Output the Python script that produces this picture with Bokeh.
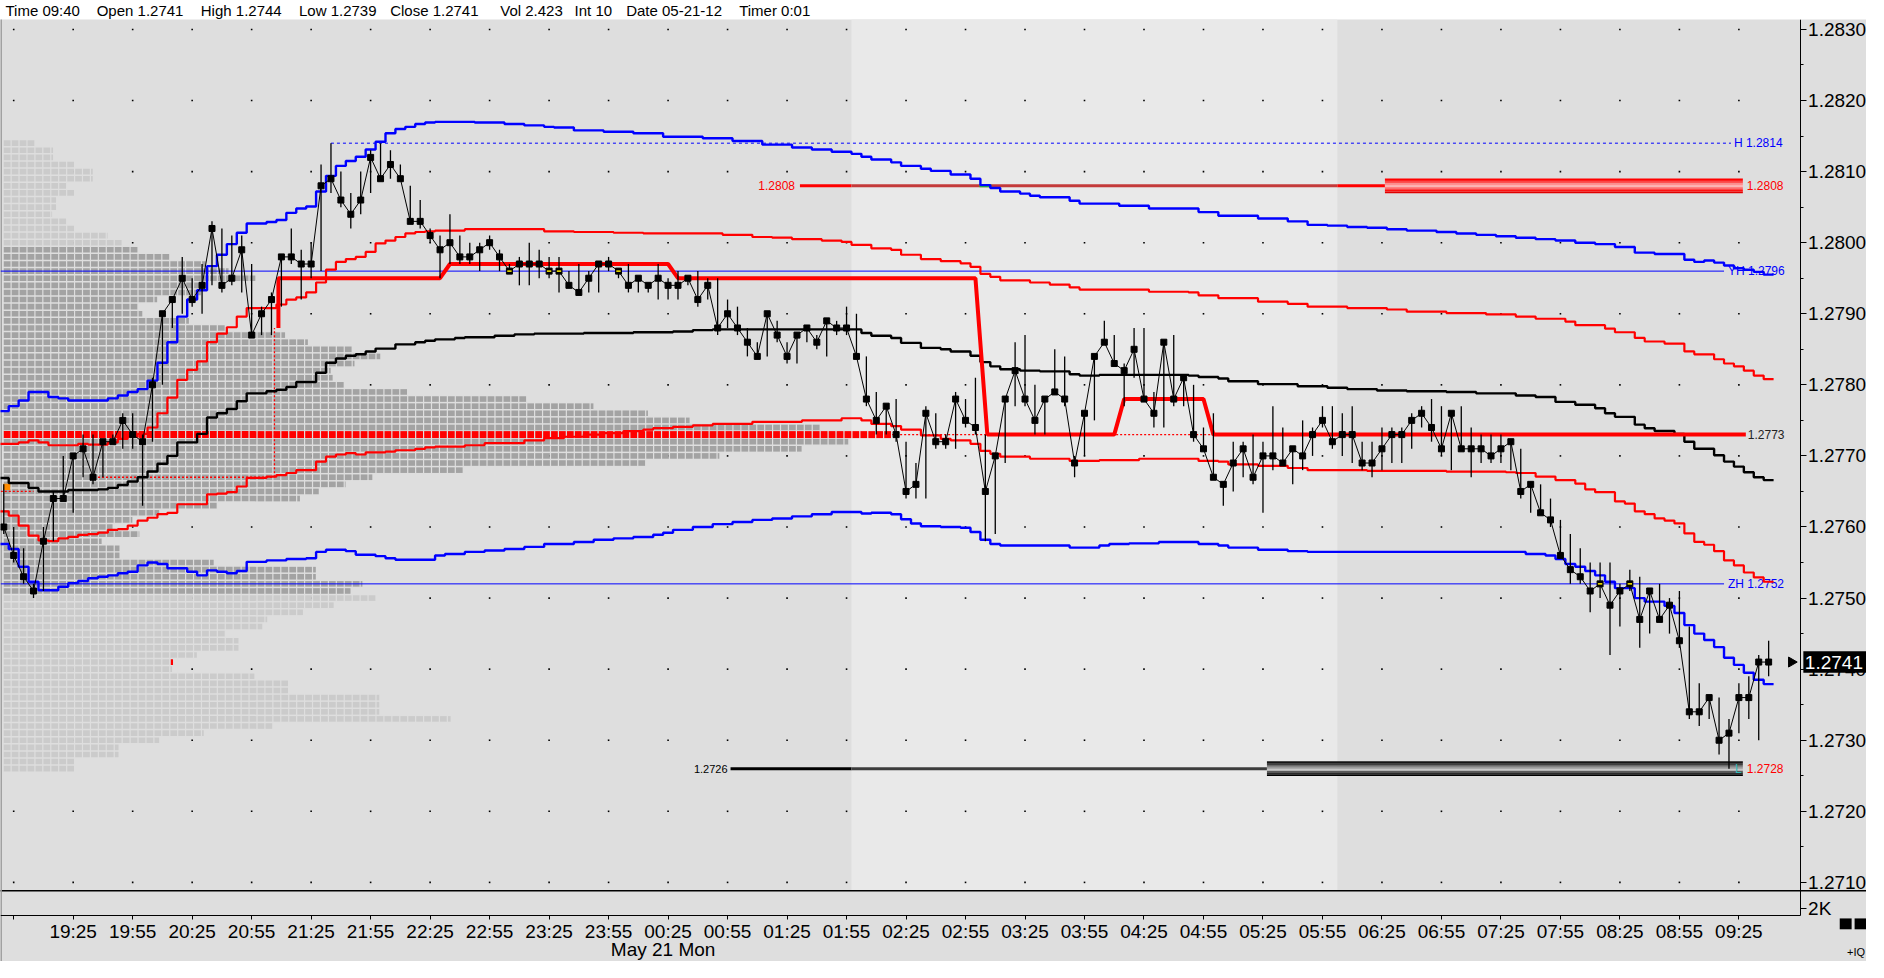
import math
from bokeh.plotting import figure
from bokeh.models import Range1d, FixedTicker
from bokeh.layouts import column
from bokeh.embed import file_html
from bokeh.resources import INLINE
from bokeh.core.properties import value

FONT = "Liberation Sans"
BG = "#dedede"
BG_MID = "#e9e9e9"

# ---------------- data ----------------
header_fields = ["Time 09:40", "Open 1.2741", "High 1.2744", "Low 1.2739", "Close 1.2741",
                 "Vol 2.423", "Int 10", "Date 05-21-12", "Timer 0:01"]

time_labels = ["19:25", "19:55", "20:25", "20:55", "21:25", "21:55", "22:25", "22:55", "23:25",
               "23:55", "00:25", "00:55", "01:25", "01:55", "02:25", "02:55", "03:25", "03:55",
               "04:25", "04:55", "05:25", "05:55", "06:25", "06:55", "07:25", "07:55", "08:25",
               "08:55", "09:25"]
date_label = "May 21 Mon"

price_ticks = [1.271, 1.272, 1.273, 1.274, 1.275, 1.276, 1.277, 1.278, 1.279, 1.280, 1.281, 1.282, 1.283]
price_minor = [1.2715, 1.2725, 1.2735, 1.2745, 1.2755, 1.2765, 1.2775, 1.2785, 1.2795, 1.2805, 1.2815, 1.2825]

# 5-minute bars, 18:50 .. 09:40
close = [
    1.2760, 1.2756, 1.2753, 1.2751, 1.2758, 1.2764, 1.2764, 1.2770, 1.2771, 1.2767,
    1.2772, 1.2772, 1.2775, 1.2773, 1.2772, 1.2780, 1.2790, 1.2792, 1.2795, 1.2792,
    1.2794, 1.2802, 1.2794, 1.2795, 1.2799, 1.2787, 1.2790, 1.2792, 1.2798, 1.2798,
    1.2797, 1.2797, 1.2808, 1.2809, 1.2806, 1.2804, 1.2806, 1.2812, 1.2809, 1.2811,
    1.2809, 1.2803, 1.2803, 1.2801, 1.2799, 1.2800, 1.2798, 1.2798, 1.2799, 1.2800,
    1.2798, 1.2796, 1.2797, 1.2797, 1.2797, 1.2796, 1.2796, 1.2794, 1.2793, 1.2795,
    1.2797, 1.2797, 1.2796, 1.2794, 1.2795, 1.2794, 1.2795, 1.2794, 1.2794, 1.2795,
    1.2792, 1.2794, 1.2788, 1.2790, 1.2788, 1.2786, 1.2784, 1.2790, 1.2787, 1.2784,
    1.2787, 1.2788, 1.2786, 1.2789, 1.2788, 1.2788, 1.2784, 1.2778, 1.2775, 1.2777,
    1.2773, 1.2765, 1.2766, 1.2776, 1.2772, 1.2772, 1.2778, 1.2775, 1.2774, 1.2765,
    1.2770, 1.2778, 1.2782, 1.2778, 1.2775, 1.2778, 1.2779, 1.2778, 1.2769, 1.2776,
    1.2784, 1.2786, 1.2783, 1.2782, 1.2785, 1.2778, 1.2776, 1.2786, 1.2778, 1.2781,
    1.2773, 1.2771, 1.2767, 1.2766, 1.2769, 1.2771, 1.2767, 1.2770, 1.2770, 1.2769,
    1.2771, 1.2770, 1.2773, 1.2775, 1.2772, 1.2773, 1.2773, 1.2769, 1.2769, 1.2771,
    1.2773, 1.2773, 1.2775, 1.2776, 1.2774, 1.2771, 1.2776, 1.2771, 1.2771, 1.2771,
    1.2770, 1.2771, 1.2772, 1.2765, 1.2766, 1.2762, 1.2761, 1.2756, 1.2754, 1.2753,
    1.2751, 1.2752, 1.2749, 1.2751, 1.2752, 1.2747, 1.2751, 1.2747, 1.2749, 1.2744,
    1.2734, 1.2734, 1.2736, 1.2730, 1.2731, 1.2736, 1.2736, 1.2741, 1.2741]
high = [
    1.2766, 1.2760, 1.2757, 1.2752, 1.2760, 1.2765, 1.2770, 1.2770, 1.2773, 1.2773,
    1.2772, 1.2773, 1.2776, 1.2776, 1.2773, 1.2781, 1.2790, 1.2792, 1.2798, 1.2795,
    1.2797, 1.2803, 1.2802, 1.2801, 1.2801, 1.2797, 1.2791, 1.2793, 1.2798, 1.2802,
    1.2799, 1.2800, 1.2811, 1.2814, 1.2810, 1.2807, 1.2810, 1.2813, 1.2814, 1.2813,
    1.2811, 1.2808, 1.2806, 1.2802, 1.2801, 1.2804, 1.2801, 1.2800, 1.2800, 1.2801,
    1.2799, 1.2797, 1.2798, 1.2800, 1.2799, 1.2798, 1.2798, 1.2796, 1.2797, 1.2796,
    1.2797, 1.2798, 1.2796, 1.2797, 1.2795, 1.2794, 1.2797, 1.2795, 1.2796, 1.2795,
    1.2796, 1.2795, 1.2795, 1.2792, 1.2791, 1.2788, 1.2786, 1.2790, 1.2789, 1.2786,
    1.2787, 1.2788, 1.2787, 1.2789, 1.2789, 1.2791, 1.2790, 1.2784, 1.2779, 1.2777,
    1.2778, 1.2772, 1.2769, 1.2777, 1.2776, 1.2773, 1.2779, 1.2778, 1.2781, 1.2773,
    1.2770, 1.2778, 1.2786, 1.2787, 1.2780, 1.2778, 1.2785, 1.2784, 1.2770, 1.2776,
    1.2784, 1.2789, 1.2787, 1.2783, 1.2788, 1.2788, 1.2779, 1.2786, 1.2787, 1.2781,
    1.2780, 1.2774, 1.2776, 1.2766, 1.2772, 1.2772, 1.2773, 1.2772, 1.2777, 1.2774,
    1.2771, 1.2775, 1.2774, 1.2777, 1.2777, 1.2776, 1.2777, 1.2772, 1.2772, 1.2774,
    1.2774, 1.2774, 1.2776, 1.2777, 1.2778, 1.2777, 1.2776, 1.2777, 1.2774, 1.2773,
    1.2773, 1.2773, 1.2772, 1.2771, 1.2766, 1.2766, 1.2764, 1.2761, 1.2759, 1.2757,
    1.2755, 1.2755, 1.2755, 1.2752, 1.2754, 1.2753, 1.2751, 1.2752, 1.2750, 1.2751,
    1.2746, 1.2738, 1.2736, 1.2736, 1.2733, 1.2738, 1.2739, 1.2742, 1.2744]
low = [
    1.2759, 1.2755, 1.2752, 1.2750, 1.2751, 1.2758, 1.2764, 1.2762, 1.2767, 1.2766,
    1.2767, 1.2772, 1.2771, 1.2771, 1.2763, 1.2772, 1.2780, 1.2788, 1.2790, 1.2791,
    1.2790, 1.2794, 1.2793, 1.2794, 1.2793, 1.2787, 1.2787, 1.2787, 1.2791, 1.2797,
    1.2792, 1.2795, 1.2796, 1.2807, 1.2805, 1.2802, 1.2804, 1.2807, 1.2809, 1.2809,
    1.2809, 1.2803, 1.2802, 1.2800, 1.2795, 1.2797, 1.2797, 1.2797, 1.2796, 1.2799,
    1.2796, 1.2796, 1.2794, 1.2794, 1.2795, 1.2795, 1.2793, 1.2794, 1.2793, 1.2793,
    1.2793, 1.2796, 1.2795, 1.2793, 1.2793, 1.2793, 1.2792, 1.2792, 1.2792, 1.2794,
    1.2791, 1.2792, 1.2787, 1.2788, 1.2787, 1.2784, 1.2784, 1.2784, 1.2786, 1.2783,
    1.2783, 1.2786, 1.2785, 1.2784, 1.2787, 1.2787, 1.2784, 1.2777, 1.2773, 1.2773,
    1.2772, 1.2764, 1.2764, 1.2764, 1.2771, 1.2771, 1.2771, 1.2774, 1.2773, 1.2758,
    1.2759, 1.2769, 1.2777, 1.2777, 1.2773, 1.2773, 1.2779, 1.2777, 1.2767, 1.2770,
    1.2775, 1.2786, 1.2783, 1.2777, 1.2781, 1.2778, 1.2774, 1.2774, 1.2777, 1.2777,
    1.2772, 1.2771, 1.2767, 1.2763, 1.2765, 1.2767, 1.2766, 1.2762, 1.2768, 1.2769,
    1.2766, 1.2768, 1.2770, 1.2774, 1.2771, 1.2770, 1.2769, 1.2768, 1.2767, 1.2768,
    1.2769, 1.2769, 1.2771, 1.2774, 1.2772, 1.2770, 1.2768, 1.2771, 1.2767, 1.2769,
    1.2769, 1.2769, 1.2768, 1.2764, 1.2762, 1.2762, 1.2760, 1.2756, 1.2752, 1.2752,
    1.2748, 1.2750, 1.2742, 1.2746, 1.2751, 1.2743, 1.2745, 1.2747, 1.2745, 1.2743,
    1.2733, 1.2732, 1.2733, 1.2728, 1.2726, 1.2731, 1.2733, 1.2730, 1.2739]

# indicator step lines: bar index where a new level starts, and the level
bu_k = [0, 1, 2, 3, 5, 6, 7, 11, 12, 13, 14, 15, 16, 17, 18, 19, 20, 21, 22, 23, 24, 25, 27, 28, 29, 30, 31,
        32, 33, 34, 35, 36, 37, 38, 39, 40, 41, 42, 43, 44, 48, 51, 53, 55, 56, 58, 61, 64, 67, 71, 74, 77,
        80, 82, 84, 86, 87, 88, 90, 91, 93, 94, 96, 98, 99, 100, 101, 103, 104, 105, 108, 109, 113, 116,
        121, 123, 127, 130, 132, 134, 136, 138, 140, 142, 145, 147, 149, 151, 153, 155, 157, 159, 161, 163,
        165, 167, 170, 171, 172, 173, 174, 175, 176, 177, 178]
bu_v = [1.27763, 1.27770, 1.27778, 1.27790, 1.27783, 1.27781, 1.27778, 1.27781, 1.27785, 1.27790, 1.27794,
        1.27806, 1.27831, 1.27860, 1.27896, 1.27920, 1.27933, 1.27967, 1.27983, 1.27998, 1.28014, 1.28027,
        1.28029, 1.28032, 1.28042, 1.28048, 1.28051, 1.28072, 1.28094, 1.28108, 1.28115, 1.28121, 1.28131,
        1.28142, 1.28154, 1.28160, 1.28163, 1.28167, 1.28169, 1.28170, 1.28169, 1.28167, 1.28165, 1.28163,
        1.28162, 1.28158, 1.28156, 1.28154, 1.28149, 1.28147, 1.28143, 1.28138, 1.28134, 1.28131, 1.28128,
        1.28125, 1.28121, 1.28117, 1.28113, 1.28108, 1.28104, 1.28101, 1.28096, 1.28090, 1.28081, 1.28077,
        1.28072, 1.28069, 1.28066, 1.28064, 1.28059, 1.28055, 1.28052, 1.28048, 1.28043, 1.28038, 1.28034,
        1.28030, 1.28025, 1.28024, 1.28022, 1.28021, 1.28019, 1.28017, 1.28015, 1.28013, 1.28011, 1.28009,
        1.28007, 1.28005, 1.28003, 1.28000, 1.27998, 1.27994, 1.27986, 1.27984, 1.27976, 1.27973, 1.27975,
        1.27972, 1.27968, 1.27964, 1.27962, 1.27959, 1.27955]

ru_k = [0, 2, 3, 4, 5, 8, 9, 11, 12, 13, 14, 15, 16, 17, 18, 19, 20, 21, 22, 23, 24, 25, 28, 29, 30, 31, 32,
        33, 34, 35, 36, 37, 38, 39, 40, 41, 42, 43, 44, 47, 55, 58, 62, 65, 73, 76, 78, 80, 83, 85, 86, 88,
        90, 91, 93, 95, 97, 98, 99, 100, 101, 104, 106, 108, 109, 116, 120, 121, 123, 127, 130, 132, 136,
        140, 142, 146, 150, 153, 155, 158, 159, 162, 163, 165, 166, 168, 170, 171, 173, 174, 175, 176, 177,
        178]
ru_v = [1.27717, 1.27719, 1.27722, 1.27719, 1.27715, 1.27717, 1.27716, 1.27719, 1.27724, 1.27727, 1.27731,
        1.27740, 1.27760, 1.27782, 1.27807, 1.27821, 1.27833, 1.27860, 1.27872, 1.27881, 1.27896, 1.27908,
        1.27913, 1.27920, 1.27923, 1.27930, 1.27944, 1.27962, 1.27973, 1.27977, 1.27980, 1.27987, 1.27999,
        1.28003, 1.28008, 1.28013, 1.28015, 1.28016, 1.28017, 1.28019, 1.28016, 1.28015, 1.28014, 1.28013,
        1.28011, 1.28008, 1.28007, 1.28005, 1.28003, 1.28001, 1.27997, 1.27992, 1.27990, 1.27983, 1.27977,
        1.27974, 1.27971, 1.27966, 1.27956, 1.27952, 1.27947, 1.27944, 1.27941, 1.27937, 1.27934, 1.27931,
        1.27930, 1.27926, 1.27922, 1.27917, 1.27914, 1.27910, 1.27908, 1.27906, 1.27903, 1.27901, 1.27899,
        1.27896, 1.27893, 1.27889, 1.27884, 1.27879, 1.27874, 1.27866, 1.27861, 1.27858, 1.27847, 1.27843,
        1.27836, 1.27830, 1.27826, 1.27820, 1.27813, 1.27808]

vw_k = [0, 1, 3, 4, 7, 10, 11, 12, 13, 14, 15, 16, 17, 18, 20, 21, 22, 23, 24, 25, 27, 28, 29, 30, 32, 33,
        34, 35, 36, 37, 38, 40, 42, 43, 44, 46, 47, 50, 52, 54, 59, 64, 68, 70, 72, 87, 88, 90, 91, 93, 95,
        96, 98, 99, 100, 101, 103, 105, 108, 109, 111, 120, 121, 123, 124, 127, 131, 134, 136, 139, 142,
        146, 149, 153, 155, 157, 159, 161, 162, 163, 165, 166, 167, 169, 170, 171, 173, 174, 175, 176, 177,
        178]
vw_v = [1.27669, 1.27662, 1.27655, 1.27650, 1.27652, 1.27653, 1.27655, 1.27659, 1.27664, 1.27670, 1.27678,
        1.27689, 1.27700, 1.27719, 1.27731, 1.27754, 1.27760, 1.27766, 1.27777, 1.27788, 1.27791, 1.27793,
        1.27797, 1.27804, 1.27817, 1.27831, 1.27837, 1.27841, 1.27843, 1.27847, 1.27851, 1.27857, 1.27860,
        1.27862, 1.27864, 1.27866, 1.27867, 1.27869, 1.27871, 1.27872, 1.27873, 1.27874, 1.27875, 1.27877,
        1.27878, 1.27873, 1.27869, 1.27866, 1.27859, 1.27852, 1.27850, 1.27847, 1.27841, 1.27832, 1.27826,
        1.27822, 1.27820, 1.27819, 1.27815, 1.27813, 1.27814, 1.27813, 1.27811, 1.27809, 1.27805, 1.27801,
        1.27798, 1.27796, 1.27794, 1.27792, 1.27791, 1.27790, 1.27788, 1.27785, 1.27783, 1.27776, 1.27772,
        1.27767, 1.27760, 1.27755, 1.27744, 1.27739, 1.27735, 1.27731, 1.27720, 1.27710, 1.27701, 1.27692,
        1.27685, 1.27677, 1.27670, 1.27666]

rl_k = [0, 1, 2, 3, 4, 5, 6, 7, 8, 9, 10, 11, 12, 13, 14, 15, 16, 17, 18, 21, 22, 23, 24, 25, 27, 28, 29,
        30, 32, 33, 34, 35, 36, 37, 39, 40, 42, 43, 44, 47, 49, 53, 55, 57, 59, 61, 63, 65, 66, 68, 70, 72,
        76, 81, 85, 87, 88, 90, 91, 93, 95, 96, 98, 99, 100, 101, 104, 108, 111, 115, 121, 123, 124, 127,
        130, 132, 138, 146, 152, 153, 155, 157, 159, 160, 161, 163, 164, 165, 166, 167, 168, 169, 170, 171,
        172, 173, 174, 175, 176, 177, 178]
rl_v = [1.27622, 1.27616, 1.27602, 1.27588, 1.27581, 1.27580, 1.27584, 1.27586, 1.27589, 1.27590, 1.27592,
        1.27596, 1.27597, 1.27602, 1.27609, 1.27613, 1.27618, 1.27620, 1.27632, 1.27646, 1.27647, 1.27649,
        1.27657, 1.27669, 1.27671, 1.27673, 1.27676, 1.27680, 1.27692, 1.27699, 1.27702, 1.27704, 1.27702,
        1.27705, 1.27706, 1.27708, 1.27710, 1.27712, 1.27713, 1.27715, 1.27718, 1.27722, 1.27725, 1.27727,
        1.27730, 1.27732, 1.27735, 1.27737, 1.27739, 1.27741, 1.27743, 1.27745, 1.27748, 1.27750, 1.27753,
        1.27750, 1.27745, 1.27742, 1.27737, 1.27729, 1.27724, 1.27722, 1.27717, 1.27707, 1.27703, 1.27699,
        1.27696, 1.27693, 1.27694, 1.27696, 1.27693, 1.27692, 1.27688, 1.27686, 1.27683, 1.27680, 1.27679,
        1.27678, 1.27677, 1.27676, 1.27671, 1.27666, 1.27661, 1.27653, 1.27649, 1.27636, 1.27633, 1.27622,
        1.27618, 1.27612, 1.27609, 1.27605, 1.27591, 1.27579, 1.27575, 1.27566, 1.27553, 1.27546, 1.27536,
        1.27529, 1.27523]

bl_k = [0, 1, 2, 3, 4, 6, 7, 8, 9, 10, 11, 12, 13, 14, 15, 16, 17, 19, 20, 21, 22, 23, 24, 25, 27, 29, 31,
        32, 33, 35, 36, 38, 39, 40, 44, 45, 47, 49, 51, 53, 55, 58, 60, 62, 64, 66, 67, 68, 70, 72, 74, 76,
        78, 80, 82, 84, 87, 88, 90, 91, 92, 93, 95, 97, 98, 99, 100, 101, 108, 111, 112, 114, 117, 121, 123,
        124, 127, 130, 132, 154, 156, 157, 158, 159, 160, 161, 162, 163, 165, 166, 168, 169, 170, 171, 172,
        173, 174, 175, 176, 177, 178]
bl_v = [1.27576, 1.27569, 1.27544, 1.27523, 1.27511, 1.27516, 1.27521, 1.27524, 1.27528, 1.27530, 1.27532,
        1.27535, 1.27537, 1.27546, 1.27550, 1.27548, 1.27542, 1.27537, 1.27532, 1.27539, 1.27537, 1.27535,
        1.27538, 1.27551, 1.27553, 1.27555, 1.27556, 1.27565, 1.27568, 1.27566, 1.27561, 1.27559, 1.27556,
        1.27554, 1.27560, 1.27562, 1.27565, 1.27567, 1.27569, 1.27572, 1.27576, 1.27579, 1.27582, 1.27584,
        1.27586, 1.27589, 1.27592, 1.27596, 1.27600, 1.27604, 1.27607, 1.27610, 1.27612, 1.27615, 1.27618,
        1.27621, 1.27619, 1.27620, 1.27618, 1.27611, 1.27605, 1.27601, 1.27600, 1.27599, 1.27593, 1.27582,
        1.27576, 1.27574, 1.27571, 1.27574, 1.27576, 1.27577, 1.27579, 1.27576, 1.27574, 1.27571, 1.27568,
        1.27566, 1.27565, 1.27562, 1.27560, 1.27555, 1.27548, 1.27544, 1.27538, 1.27532, 1.27523, 1.27514,
        1.27500, 1.27495, 1.27489, 1.27479, 1.27462, 1.27450, 1.27441, 1.27431, 1.27416, 1.27406, 1.27395,
        1.27385, 1.27379]

# developing point of control (thick red)
poc_k = [27.7, 27.7, 44.0, 45.0, 67.0, 68.0, 98.0, 99.2, 112.0, 113.0, 121.0, 122.0, 175.7]
poc_v = [1.2788, 1.2795, 1.2795, 1.2797, 1.2797, 1.2795, 1.2795, 1.2773, 1.2773, 1.2778, 1.2778, 1.2773, 1.2773]
# earlier POC levels (dotted)
old_poc_k = [[-0.3, 3.0], [8.7, 27.3], [27.3, 27.3], [89.6, 122.0]]
old_poc_v = [[1.2765, 1.2765], [1.2767, 1.2767], [1.2767, 1.2788], [1.2773, 1.2773]]

# volume profile rows 1.2814 (top) .. 1.2726 (bottom)
profile_top = 1.2814
profile_vol = [
    35, 53, 53, 75, 93, 93, 67, 75, 56, 56,
    52, 67, 75, 108, 123, 139, 171, 207, 230, 257,
    207, 203, 158, 138, 143, 190, 227, 287, 310, 355,
    383, 357, 333, 335, 347, 410, 531, 598, 653, 695,
    827, 899, 855, 808, 725, 651, 467, 375, 348, 321,
    302, 218, 160, 133, 113, 140, 102, 120, 120, 215,
    318, 318, 365, 353, 379, 336, 305, 269, 264, 227,
    240, 240, 198, 173, 173, 256, 290, 290, 382, 382,
    382, 454, 274, 205, 160, 119, 119, 75, 75]
va_high, va_low, poc_price = 1.2799, 1.2751, 1.2773

# reference levels
lvl_text = ["H 1.2814", "YH 1.2796", "ZH 1.2752"]
lvl_price = [1.2814, 1.2796, 1.2752]
lvl_from = [33.0, -0.33, -0.33]
lvl_to = [174.2, 173.5, 173.5]
lvl_dash = ["3 3", "solid", "solid"]

target_hi, target_lo, session_low = 1.2808, 1.2726, 1.2728
session_bounds = [85.5, 134.5]  # lighter session background between these bars

# ---------------- figure geometry ----------------
X0, X1 = -0.33, 187.87          # whole canvas width, in bar units
AXIS_K = 181.17                 # price axis position
Y0, Y1 = 1.269887, 1.283140     # whole canvas height, in price units
AXIS_P = 1.270534               # time axis position
SUB_LINE = 1.270881             # separator of the small volume pane
TICK = 0.0001

W_TOTAL = 1866
H_MAIN = 942
p = figure(title=None, width=W_TOTAL, height=H_MAIN, x_range=Range1d(X0, X1),
           y_range=Range1d(Y0, Y1), output_backend="svg", toolbar_location=None,
           y_axis_location="right", min_border=0, background_fill_color=BG, border_fill_color=BG,
           outline_line_color=None)
p.grid.visible = False

# price axis
yax = p.yaxis[0]
sub_tick = 1.27063
yax.ticker = FixedTicker(ticks=price_ticks + [sub_tick], minor_ticks=price_minor)
ov = {t: f"{t:.4f}" for t in price_ticks}
ov[sub_tick] = "2K"
yax.major_label_overrides = ov
yax.fixed_location = AXIS_K
yax.bounds = (AXIS_P, Y1 + 0.001)
yax.major_label_text_font = FONT
yax.major_label_text_font_size = "19px"
yax.major_label_text_color = "black"
yax.major_tick_out = 6
yax.major_tick_in = 0
yax.minor_tick_out = 3
yax.minor_tick_in = 0
yax.major_label_standoff = 2
yax.axis_line_color = "black"

# time axis
xax = p.xaxis[0]
tick_k = [1] + [7 + 6 * i for i in range(len(time_labels))]
xax.ticker = FixedTicker(ticks=tick_k, minor_ticks=[])
xov = {1: ""}
for i, lab in enumerate(time_labels):
    xov[7 + 6 * i] = lab
xax.major_label_overrides = xov
xax.fixed_location = AXIS_P
xax.bounds = (X0 - 1, AXIS_K)
xax.major_label_text_font = FONT
xax.major_label_text_font_size = "19px"
xax.major_label_text_color = "black"
xax.major_tick_out = 4
xax.major_tick_in = 0
xax.minor_tick_line_color = None
xax.major_label_standoff = 1
xax.axis_line_color = "black"

# ---------------- background ----------------
p.quad(left=[session_bounds[0]], right=[session_bounds[1]], bottom=[SUB_LINE], top=[Y1 + 0.001],
       color=BG_MID, line_color=None)
p.segment(x0=[X0 - 1], x1=[X1 + 1], y0=[SUB_LINE], y1=[SUB_LINE], line_color="black", line_width=1.5)
p.segment(x0=[-0.29], x1=[-0.29], y0=[Y0 - 0.01], y1=[Y1 + 0.01], line_color="#9a9a9a", line_width=2)

# grid dots
dot_x, dot_y = [], []
for kk in tick_k:
    for t in price_ticks:
        dot_x.append(kk)
        dot_y.append(t)
p.scatter(dot_x, dot_y, marker="square", size=1.6, color="black", line_color=None)

# ---------------- volume profile ----------------
PX_PER_VOL = 0.1   # bar units per profile unit
cl, cr, cb, ct, cc = [], [], [], [], []
row_end = {}
for i, v in enumerate(profile_vol):
    price = round(profile_top - i * TICK, 4)
    end = X0 + v * PX_PER_VOL
    row_end[price] = end
    is_poc = abs(price - poc_price) < 1e-9
    in_va = (va_low - 1e-9) <= price <= (va_high + 1e-9)
    col = "#ff0000" if is_poc else ("#a3a3a3" if in_va else "#cbcbcb")
    half = 0.000049 if is_poc else 0.0000395
    s = 0.0
    while s < end - 0.02:
        cl.append(s)
        cr.append(min(s + 0.68, end))
        cb.append(price - half)
        ct.append(price + half)
        cc.append(col)
        s += 0.8
p.quad(left=cl, right=cr, bottom=cb, top=ct, fill_color=cc, line_color=None)

# current price marker on the profile
last_px = close[-1]
if last_px in row_end:
    e = row_end[last_px]
    p.quad(left=[e - 0.12], right=[e + 0.1], bottom=[last_px - 0.00004], top=[last_px + 0.00004],
           color="#ff0000", line_color=None)
# small orange marker at session open
p.quad(left=[-0.05], right=[0.65], bottom=[1.27652], top=[1.27661], color="#ff8c00", line_color=None)

# ---------------- reference lines ----------------
for t, pr, a, b, d in zip(lvl_text, lvl_price, lvl_from, lvl_to, lvl_dash):
    p.segment(x0=[a], x1=[b], y0=[pr], y1=[pr], line_color="#0000ff", line_width=1, line_dash=d)
p.text(x=[174.5, 173.9, 173.9], y=lvl_price, text=lvl_text, text_font=value(FONT),
       text_font_size="12px", text_color="#0000ff", text_baseline="middle", text_align="left")


def grad_bar(x0, x1, center, colors, half=0.000104):
    n = len(colors)
    h = 2 * half / n
    bots = [center - half + i * h for i in range(n)]
    p.quad(left=[x0] * n, right=[x1] * n, bottom=bots, top=[b + h for b in bots],
           fill_color=colors, line_color=None)


# target high 1.2808
p.segment(x0=[80.3, 85.5, 134.5], x1=[85.5, 134.5, 139.3], y0=[target_hi] * 3, y1=[target_hi] * 3,
          line_color=["#ff0000", "#c43a3a", "#ff0000"], line_width=3)
p.segment(x0=[98.4], x1=[99.6], y0=[target_hi], y1=[target_hi], line_color="#22cc22", line_width=3)
grad_bar(139.3, 175.4, target_hi,
         ["#e00000", "#ff1010", "#ff4545", "#ff8080", "#ffb0b0", "#ff9090", "#ff5050", "#ff2020", "#ff0000"])
p.text(x=[79.8], y=[target_hi], text=[f"{target_hi:.4f}"], text_font=value(FONT), text_font_size="12px",
       text_color="#ff0000", text_baseline="middle", text_align="right")
p.text(x=[175.8], y=[target_hi], text=[f"{target_hi:.4f}"], text_font=value(FONT), text_font_size="12px",
       text_color="#ff0000", text_baseline="middle", text_align="left")

# target low 1.2726
p.segment(x0=[73.3, 85.5], x1=[85.5, 127.4], y0=[target_lo] * 2, y1=[target_lo] * 2,
          line_color=["#000000", "#3c3c3c"], line_width=3)
grad_bar(127.4, 175.4, target_lo,
         ["#000000", "#2a2a2a", "#5a5a5a", "#c8c8c8", "#9a9a9a", "#6a6a6a", "#404040", "#151515"])
p.text(x=[73.0], y=[target_lo], text=[f"{target_lo:.4f}"], text_font=value(FONT), text_font_size="11px",
       text_color="black", text_baseline="middle", text_align="right")
p.text(x=[174.6], y=[target_lo], text=["L"], text_font=value(FONT), text_font_size="12px",
       text_color="#33bbbb", text_baseline="middle", text_align="left")
p.text(x=[175.8], y=[target_lo], text=[f"{session_low:.4f}"], text_font=value(FONT), text_font_size="12px",
       text_color="#ff0000", text_baseline="middle", text_align="left")

# old POC levels (dotted)
p.multi_line(old_poc_k, old_poc_v, line_color="#ff0000", line_width=1.3, line_dash="2 2")

# ---------------- bands ----------------
n = min(len(close), len(high), len(low))
LAST_K = n - 1


def step_line(ks, vs, color, width):
    m = min(len(ks), len(vs))
    xs = [k - 0.5 for k in ks[:m]] + [LAST_K + 0.5]
    ys = list(vs[:m]) + [vs[m - 1]]
    p.step(xs, ys, mode="after", line_color=color, line_width=width)


step_line(bu_k, bu_v, "#0000ff", 2.4)
step_line(ru_k, ru_v, "#ff0000", 2.2)
step_line(vw_k, vw_v, "#000000", 2.4)
step_line(rl_k, rl_v, "#ff0000", 2.2)
step_line(bl_k, bl_v, "#0000ff", 2.4)

# developing POC
p.line(poc_k, poc_v, line_color="#ff0000", line_width=4)
p.text(x=[175.9], y=[poc_price], text=[f"{poc_price:.4f}"], text_font=value(FONT), text_font_size="12px",
       text_color="#222222", text_baseline="middle", text_align="left")

# ---------------- price bars ----------------
ks = list(range(n))
p.segment(x0=ks, x1=ks, y0=low[:n], y1=high[:n], line_color="black", line_width=1.3)
p.line(ks, close[:n], line_color="black", line_width=1)
p.scatter(ks, close[:n], marker="square", size=6, color="black")
yk = [k for k in ks if abs(close[k] - 1.2796) < 1e-9 or abs(close[k] - 1.2752) < 1e-9]
p.segment(x0=[k - 0.22 for k in yk], x1=[k + 0.22 for k in yk], y0=[close[k] for k in yk],
          y1=[close[k] for k in yk], line_color="#ffee00", line_width=1.5)

# last price arrow and box on the price axis (drawn above the axis)
last = close[n - 1]
p.scatter([180.3], [last], marker="triangle", size=10, angle=-math.pi / 2, color="black")
p.quad(left=[181.5], right=[X1 + 1], bottom=[last - 0.000152], top=[last + 0.000152],
       color="black", line_color=None, level="overlay")
p.text(x=[181.65], y=[last], text=[f"{last:.4f}"], text_font=value(FONT), text_font_size="19px",
       text_color="white", text_baseline="middle", text_align="left", level="overlay")

# date under the time axis, and corner marks
p.text(x=[66.5], y=[1.270049], text=[date_label], text_font=value(FONT), text_font_size="19px",
       text_color="black", text_baseline="middle", text_align="center")
p.quad(left=[185.17, 186.67], right=[186.37, 187.87], bottom=[1.270340] * 2, top=[1.270493] * 2,
       color="black", line_color=None)
p.text(x=[185.9], y=[1.270021], text=["+IQ"], text_font=value(FONT), text_font_size="11px",
       text_color="black", text_baseline="middle", text_align="left")

# ---------------- header ----------------
header_x = [5, 97, 202, 301, 393, 504, 579, 631, 745]
h = figure(title=None, width=W_TOTAL, height=19, x_range=Range1d(0, 1882),
           y_range=Range1d(0, 19), output_backend="svg", toolbar_location=None,
           x_axis_type=None, y_axis_type=None, min_border=0, background_fill_color="white",
           border_fill_color="white", outline_line_color=None)
h.grid.visible = False
h.text(x=header_x, y=[9.5] * len(header_fields), text=header_fields, text_font=value(FONT),
       text_font_size="15px", text_color="black", text_baseline="middle", text_align="left")

layout = column(h, p, spacing=0)
open("out.html", "w").write(file_html(layout, INLINE))
